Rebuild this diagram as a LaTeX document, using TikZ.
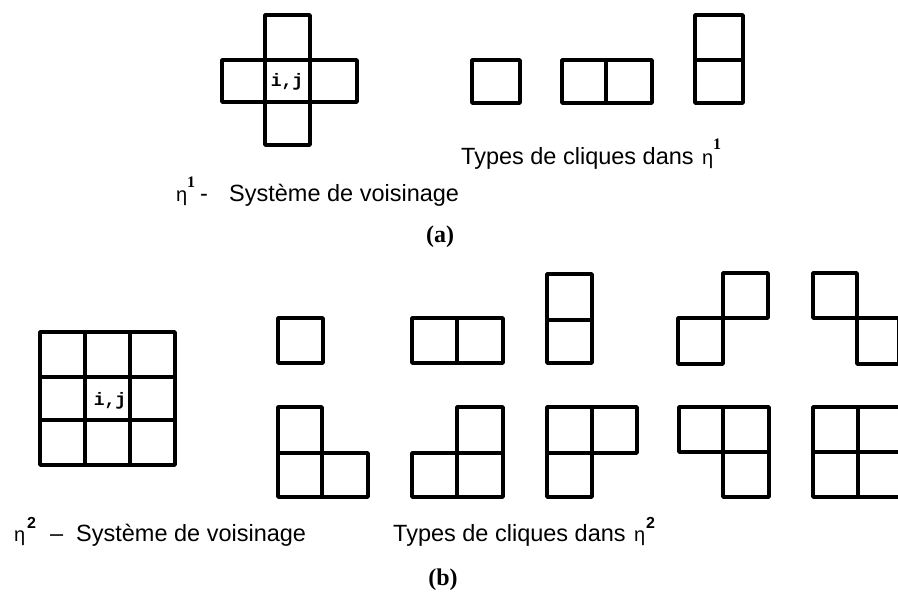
\documentclass[tikz,border=0pt]{standalone}
\usepackage{fontspec}
\setmainfont{Liberation Sans}
\newfontfamily\serifb{Liberation Serif}
\newfontfamily\monof{Liberation Mono}
\begin{document}
\begin{tikzpicture}[x=1pt,y=-1pt,
  cell/.style={draw=black,line width=3.4pt,line join=round},
  lbl/.style={inner sep=0pt,anchor=base west,font=\fontsize{23.5}{27}\selectfont},
  etalbl/.style={inner sep=0pt,anchor=base west,font=\fontsize{20}{22}\selectfont},
  suplbl/.style={inner sep=0pt,anchor=base west,font=\serifb\bfseries\fontsize{16}{18}\selectfont},
  sup2lbl/.style={inner sep=0pt,anchor=base west,font=\bfseries\fontsize{16}{18}\selectfont},
  ijlbl/.style={inner sep=0pt,font=\monof\bfseries\fontsize{18}{20}\selectfont},
  caplbl/.style={inner sep=0pt,font=\serifb\bfseries\fontsize{24}{28}\selectfont}]
\useasboundingbox (0,0) rectangle (898,596);
\clip (0,0) rectangle (898,596);
% ---- (a) neighbourhood cross
\draw[cell] (265,15) rectangle (310,60);
\draw[cell] (222,60) rectangle (265,102);
\draw[cell] (265,60) rectangle (310,102);
\draw[cell] (310,60) rectangle (357,102);
\draw[cell] (265,102) rectangle (310,145);
\node[ijlbl] (ij1) at (287,82) {i,j};
% ---- (a) cliques
\draw[cell] (472,60) rectangle (520,103);
\draw[cell] (562,60) rectangle (606,103);
\draw[cell] (606,60) rectangle (652,103);
\draw[cell] (695,15) rectangle (743,60);
\draw[cell] (695,60) rectangle (743,103);
% ---- (a) labels
\node[lbl] (typesA) at (461,165) {Types de cliques dans};
\node[etalbl] (etaA2) at (702,165) {η};
\node[suplbl] (supA2) at (713,150) {1};
\node[etalbl] (etaA1) at (176,202) {η};
\node[suplbl] (supA1) at (187,188) {1};
\node[lbl] (dashA) at (200,202) {-};
\node[lbl] (sysA) at (229,202) {Système de voisinage};
\node[caplbl] (capA) at (440,237) {(a)};
% ---- (b) 3x3 grid
\foreach \xa/\xb in {40/85,85/130,130/175}
  \foreach \ya/\yb in {332/377,377/420,420/465}
    \draw[cell] (\xa,\ya) rectangle (\xb,\yb);
\node[ijlbl] (ij2) at (110,401) {i,j};
% ---- (b) cliques, first row
\draw[cell] (278,318) rectangle (323,363);
\draw[cell] (412,318) rectangle (457,363);
\draw[cell] (457,318) rectangle (503,363);
\draw[cell] (547,274) rectangle (592,320);
\draw[cell] (547,320) rectangle (592,363);
\draw[cell] (723,273) rectangle (768,318);
\draw[cell] (678,318) rectangle (723,364);
\draw[cell] (813,273) rectangle (857,318);
\draw[cell] (857,318) rectangle (899,364);
% ---- (b) cliques, second row
\draw[cell] (278,407) rectangle (322,453);
\draw[cell] (278,453) rectangle (322,497);
\draw[cell] (322,453) rectangle (368,497);
\draw[cell] (457,407) rectangle (503,453);
\draw[cell] (412,453) rectangle (457,497);
\draw[cell] (457,453) rectangle (503,497);
\draw[cell] (547,407) rectangle (592,453);
\draw[cell] (592,407) rectangle (637,453);
\draw[cell] (547,453) rectangle (592,497);
\draw[cell] (679,407) rectangle (723,452);
\draw[cell] (723,407) rectangle (769,452);
\draw[cell] (723,452) rectangle (769,497);
\draw[cell] (813,407) rectangle (858,452);
\draw[cell] (858,407) rectangle (903,452);
\draw[cell] (813,452) rectangle (858,497);
\draw[cell] (858,452) rectangle (903,497);
% ---- (b) labels
\node[etalbl] (etaB1) at (14,541) {η};
\node[sup2lbl] (supB1) at (27,528) {2};
\node[lbl] (dashB) at (50,541) {–};
\node[lbl] (sysB) at (76,541) {Système de voisinage};
\node[lbl] (typesB) at (393,541) {Types de cliques dans};
\node[etalbl] (etaB2) at (634,541) {η};
\node[sup2lbl] (supB2) at (646,528) {2};
\node[caplbl] (capB) at (443,580) {(b)};
\end{tikzpicture}
\end{document}
